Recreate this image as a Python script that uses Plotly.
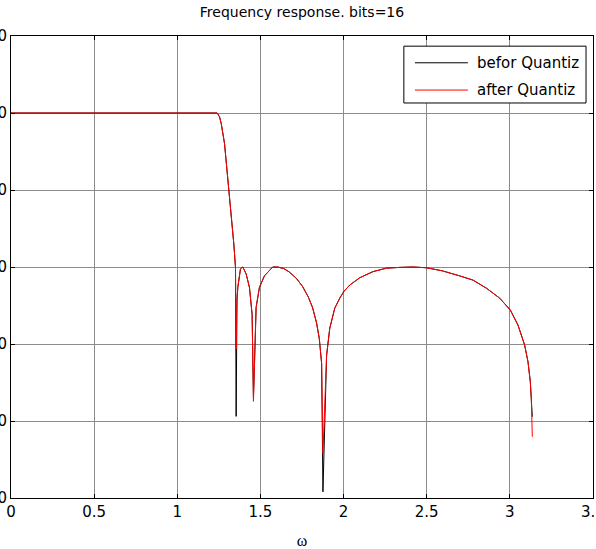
import plotly.graph_objects as go

# ---- data ----
omega = [0.0, 0.5, 1.0, 1.20, 1.240, 1.254, 1.264, 1.284, 1.304, 1.324, 1.340, 1.350,
         1.354, 1.359, 1.364, 1.380, 1.394, 1.414, 1.434, 1.450, 1.458, 1.474, 1.494,
         1.524, 1.574, 1.604, 1.640, 1.674, 1.717, 1.754, 1.788, 1.814, 1.838, 1.854, 1.868,
         1.876, 1.898, 1.917, 1.947, 1.977, 2.001, 2.037, 2.097, 2.177, 2.258, 2.338,
         2.420, 2.500, 2.594, 2.698, 2.778, 2.859, 2.939, 3.003, 3.049, 3.089, 3.109,
         3.123, 3.129, 3.135]
mag_before = [0, 0, 0, 0, 0, -1.0, -2.7, -7.9, -16.6, -25.3, -34.0, -40.1,
              -78.8, -48.6, -45.3, -40.5, -40.0, -41.8, -45.3, -52.3, -74.0, -50.5, -45.3,
              -42.3, -40.0, -40.0, -40.4, -41.3, -43.0, -45.1, -47.8, -50.6, -54.6, -58.6, -65.0,
              -98.4, -62.9, -55.9, -50.7, -48.1, -46.4, -44.7, -42.8, -41.2, -40.3, -40.1,
              -40.0, -40.2, -41.0, -42.3, -43.4, -45.5, -48.1, -51.2, -55.1, -60.3, -64.6,
              -69.8, -74.1, -78.9]
mag_after = [0, 0, 0, 0, 0, -1.0, -2.7, -7.9, -16.6, -25.3, -34.0, -40.1,
             -61.3, -48.6, -45.3, -40.5, -40.0, -41.8, -45.3, -52.3, -74.9, -50.5, -45.3,
             -42.3, -40.0, -40.0, -40.4, -41.3, -43.0, -45.1, -47.8, -50.6, -54.6, -58.6, -65.0,
             -88.4, -62.9, -55.9, -50.7, -48.1, -46.4, -44.7, -42.8, -41.2, -40.3, -40.1,
             -40.0, -40.2, -41.0, -42.3, -43.4, -45.5, -48.1, -51.2, -55.1, -60.3, -64.6,
             -69.8, -74.1, -84.1]
series_names = ["befor Quantiz", "after Quantiz"]
x_ticks = [0, 0.5, 1, 1.5, 2, 2.5, 3, 3.5]
x_tick_labels = ["0", "0.5", "1", "1.5", "2", "2.5", "3", "3.5"]
y_ticks = [-100, -80, -60, -40, -20, 0, 20]
y_tick_labels = ["-100", "-80", "-60", "-40", "-20", "0", "20"]
title_text = "Frequency response. bits=16"
x_title = "ω"

FONT = "DejaVu Sans, Arial, sans-serif"
colors = ["#000000", "#ff0000"]

fig = go.Figure()
fig.add_trace(go.Scatter(x=omega, y=mag_before, mode="lines", name=series_names[0],
                         line=dict(color=colors[0], width=1), showlegend=False))
fig.add_trace(go.Scatter(x=omega, y=mag_after, mode="lines", name=series_names[1],
                         line=dict(color=colors[1], width=1), showlegend=False))

# custom MATLAB-like legend box
lx0, lx1, ly0, ly1 = 0.675, 0.988, 0.855, 0.978
fig.add_shape(type="rect", xref="paper", yref="paper", x0=lx0, x1=lx1, y0=ly0, y1=ly1,
              line=dict(color="#000000", width=1), fillcolor="#ffffff", layer="above")
rows_y = [0.942, 0.883]
for name, col, yy in zip(series_names, colors, rows_y):
    fig.add_shape(type="line", xref="paper", yref="paper", x0=0.694, x1=0.785, y0=yy, y1=yy,
                  line=dict(color=col, width=1), layer="above")
    fig.add_annotation(xref="paper", yref="paper", x=0.797, y=yy, text=name, showarrow=False,
                       xanchor="left", yanchor="middle", font=dict(family=FONT, size=15, color="#000"))

fig.update_layout(
    width=596, height=549,
    margin=dict(l=11, r=3, t=36, b=51, autoexpand=False),
    paper_bgcolor="#ffffff", plot_bgcolor="#ffffff",
    title=dict(text=title_text, x=0.5, xref="paper", y=0.978, yref="container",
               xanchor="center", yanchor="middle", font=dict(family=FONT, size=14, color="#000")),
    font=dict(family=FONT, size=15, color="#000"),
)
axis_common = dict(showline=True, linecolor="#000000", linewidth=1, mirror="ticks",
                   ticks="inside", ticklen=4, tickcolor="#000000",
                   showgrid=True, gridcolor="#8c8c8c", gridwidth=1, zeroline=False,
                   automargin=False, tickfont=dict(family=FONT, size=15, color="#000"))
fig.update_xaxes(range=[0, 3.5], tickvals=x_ticks, ticktext=x_tick_labels,
                 ticklabeloverflow="allow",
                 title=dict(text=x_title, font=dict(family="Liberation Serif, serif", size=16), standoff=14),
                 **axis_common)
fig.update_yaxes(range=[-100, 20], tickvals=y_ticks, ticktext=y_tick_labels,
                 ticklabeloverflow="allow", **axis_common)

fig.write_html("out.html", config={"displayModeBar": False},
               post_script="document.body.style.margin='0';")
